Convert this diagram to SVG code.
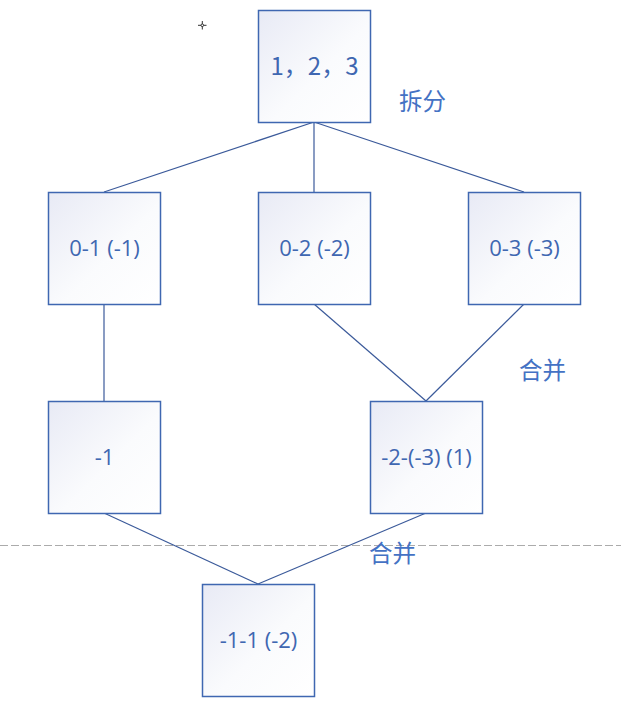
<svg xmlns="http://www.w3.org/2000/svg" width="621" height="714" viewBox="0 0 621 714">
<defs>
<linearGradient id="g" x1="0" y1="0" x2="1" y2="1">
<stop offset="0" stop-color="#E8EAF5"/>
<stop offset="0.55" stop-color="#FAFBFD"/>
<stop offset="1" stop-color="#FFFFFF"/>
</linearGradient>
<style>
.box{fill:url(#g);stroke:#3F67B1;stroke-width:1.5}
.t{font-family:"Open Sans","Noto Sans CJK SC",sans-serif;font-size:22px;fill:#3F67B1;text-anchor:middle}
.c{font-family:"Noto Sans CJK SC","Noto Sans",sans-serif;font-size:23.5px;fill:#4472C4}
.ln{stroke:#3B5A9A;stroke-width:1.2;fill:none}
</style>
</defs>
<rect width="621" height="714" fill="#FFFFFF"/>
<line x1="0" y1="545.5" x2="621" y2="545.5" stroke="#ABABAB" stroke-width="1.2" stroke-dasharray="8,3"/>
<g id="cursor" stroke="#333333" stroke-width="1" fill="none">
<line x1="198" y1="25.3" x2="206.5" y2="25.3"/>
<line x1="202.3" y1="21" x2="202.3" y2="29.5"/>
<circle cx="202.3" cy="25.3" r="1.3" fill="#FFFFFF"/>
</g>
<g id="connectors" class="ln">
<line x1="314" y1="122" x2="104" y2="192"/>
<line x1="314" y1="122" x2="314" y2="192"/>
<line x1="314" y1="122" x2="524" y2="192"/>
<line x1="104" y1="304" x2="104" y2="401"/>
<line x1="314" y1="304" x2="426" y2="401"/>
<line x1="524" y1="304" x2="426" y2="401"/>
<line x1="104" y1="513" x2="258" y2="584"/>
<line x1="426" y1="513" x2="258" y2="584"/>
</g>
<g id="n123"><rect class="box" x="258.5" y="10.5" width="112" height="112"/><text class="t" x="314.5" y="75" style="font-family:'Noto Sans CJK SC',sans-serif;font-size:24px">1，2，3</text></g>
<g id="n01"><rect class="box" x="48.5" y="192.5" width="112" height="112"/><text class="t" x="104.5" y="256">0-1 (-1)</text></g>
<g id="n02"><rect class="box" x="258.5" y="192.5" width="112" height="112"/><text class="t" x="314.5" y="256">0-2 (-2)</text></g>
<g id="n03"><rect class="box" x="468.5" y="192.5" width="112" height="112"/><text class="t" x="524.5" y="256">0-3 (-3)</text></g>
<g id="nm1"><rect class="box" x="48.5" y="401.5" width="112" height="112"/><text class="t" x="104.5" y="465">-1</text></g>
<g id="nm23"><rect class="box" x="370.5" y="401.5" width="112" height="112"/><text class="t" x="426.5" y="465">-2-(-3) (1)</text></g>
<g id="nm11"><rect class="box" x="202.5" y="584.5" width="112" height="112"/><text class="t" x="258.5" y="648">-1-1 (-2)</text></g>
<text class="c" x="399" y="110">拆分</text>
<text class="c" x="519" y="379">合并</text>
<text class="c" x="369" y="562">合并</text>
</svg>
